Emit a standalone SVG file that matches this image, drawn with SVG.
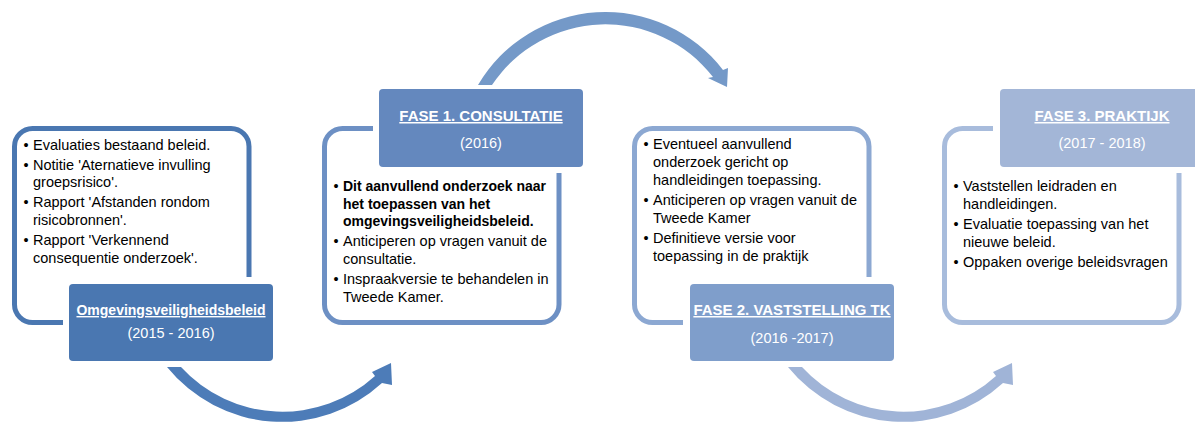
<svg xmlns="http://www.w3.org/2000/svg" width="1195" height="427" viewBox="0 0 1195 427">
<style>
.body{font-family:"Liberation Sans",Arial,sans-serif;font-size:14.5px;fill:#000}
.b{font-weight:bold;font-size:14px}
.title{font-family:"Liberation Sans",Arial,sans-serif;font-weight:bold;font-size:15px;fill:#fff;text-anchor:middle;text-decoration:underline}
.year{font-family:"Liberation Sans",Arial,sans-serif;font-size:14.5px;fill:#fff;text-anchor:middle}
.outline{fill:none;stroke-width:5}
</style>
<rect width="1195" height="427" fill="#fff"/>
<g id="connectors">
  <path id="arrow1" fill="#4d7cb8" d="M167,367 A148,148 0 0 0 382,383 L392,385 L391,363 L372,372 L375,376 A137.5,137.5 0 0 1 181,367 Z"/>
  <path id="arrow2" fill="#7499c8" d="M478,85 A148,148 0 0 1 723,70 L728,68 L727,87 L708,78 L713,77 A136.3,136.3 0 0 0 492,85 Z"/>
  <path id="arrow3" fill="#a0b4d7" transform="translate(621,0)" d="M167,367 A148,148 0 0 0 382,383 L392,385 L391,363 L372,372 L375,376 A137.5,137.5 0 0 1 181,367 Z"/>
</g>
<g id="node1">
  <path class="outline" stroke="#4a77b1" d="M63,322.5 H32.5 A18,18 0 0 1 14.5,304.5 V146.5 A18,18 0 0 1 32.5,128.5 H231 A18,18 0 0 1 249,146.5 V277"/>
  <text class="body"><tspan x="23.5" y="149.5">•</tspan><tspan x="33" y="149.5">Evaluaties bestaand beleid.</tspan>
    <tspan x="23.5" y="169.5">•</tspan><tspan x="33" y="169.5">Notitie 'Aternatieve invulling</tspan>
    <tspan x="33" y="187">groepsrisico'.</tspan>
    <tspan x="23.5" y="207">•</tspan><tspan x="33" y="207">Rapport 'Afstanden rondom</tspan>
    <tspan x="33" y="225">risicobronnen'.</tspan>
    <tspan x="23.5" y="245">•</tspan><tspan x="33" y="245">Rapport 'Verkennend</tspan>
    <tspan x="33" y="262.5">consequentie onderzoek'.</tspan></text>
  <rect x="69" y="284" width="204" height="77" rx="4" fill="#4a77b1"/>
  <text class="title" x="171" y="315" style="font-size:14px">Omgevingsveiligheidsbeleid</text>
  <text class="year" x="171" y="338">(2015 - 2016)</text>
</g>
<g id="node2">
  <path class="outline" stroke="#6d90c4" d="M373,128.5 H342.5 A18,18 0 0 0 324.5,146.5 V304.5 A18,18 0 0 0 342.5,322.5 H541 A18,18 0 0 0 559,304.5 V173"/>
  <rect x="379" y="89" width="204" height="78" rx="4" fill="#6488be"/>
  <text class="title" x="481" y="121">FASE 1. CONSULTATIE</text>
  <text class="year" x="481" y="148">(2016)</text>
  <text class="body"><tspan x="333.5" y="191">•</tspan><tspan x="343" y="191" class="b">Dit aanvullend onderzoek naar</tspan>
    <tspan x="343" y="209" class="b">het toepassen van het</tspan>
    <tspan x="343" y="226" class="b">omgevingsveiligheidsbeleid.</tspan>
    <tspan x="333.5" y="246">•</tspan><tspan x="343" y="246">Anticiperen op vragen vanuit de</tspan>
    <tspan x="343" y="264">consultatie.</tspan>
    <tspan x="333.5" y="284">•</tspan><tspan x="343" y="284">Inspraakversie te behandelen in</tspan>
    <tspan x="343" y="302">Tweede Kamer.</tspan></text>
</g>
<g id="node3">
  <path class="outline" stroke="#8ca8d2" d="M683,322.5 H652.5 A18,18 0 0 1 634.5,304.5 V146.5 A18,18 0 0 1 652.5,128.5 H851 A18,18 0 0 1 869,146.5 V277"/>
  <text class="body"><tspan x="643.5" y="149">•</tspan><tspan x="653" y="149">Eventueel aanvullend</tspan>
    <tspan x="653" y="167">onderzoek gericht op</tspan>
    <tspan x="653" y="185">handleidingen toepassing.</tspan>
    <tspan x="643.5" y="205">•</tspan><tspan x="653" y="205">Anticiperen op vragen vanuit de</tspan>
    <tspan x="653" y="223">Tweede Kamer</tspan>
    <tspan x="643.5" y="243">•</tspan><tspan x="653" y="243">Definitieve versie voor</tspan>
    <tspan x="653" y="261">toepassing in de praktijk</tspan></text>
  <rect x="690" y="284" width="204" height="77" rx="4" fill="#7f9ecb"/>
  <text class="title" x="792" y="315">FASE 2. VASTSTELLING TK</text>
  <text class="year" x="792" y="342.5">(2016 -2017)</text>
</g>
<g id="node4">
  <path class="outline" stroke="#a8bcdc" d="M993,128.5 H962.5 A18,18 0 0 0 944.5,146.5 V304.5 A18,18 0 0 0 962.5,322.5 H1161 A18,18 0 0 0 1179,304.5 V173"/>
  <rect x="1000" y="89" width="204" height="78" rx="4" fill="#a3b6d7"/>
  <text class="title" x="1102" y="121">FASE 3. PRAKTIJK</text>
  <text class="year" x="1102" y="148">(2017 - 2018)</text>
  <text class="body"><tspan x="953.5" y="191">•</tspan><tspan x="963" y="191">Vaststellen leidraden en</tspan>
    <tspan x="963" y="209">handleidingen.</tspan>
    <tspan x="953.5" y="229">•</tspan><tspan x="963" y="229">Evaluatie toepassing van het</tspan>
    <tspan x="963" y="247">nieuwe beleid.</tspan>
    <tspan x="953.5" y="267">•</tspan><tspan x="963" y="267">Oppaken overige beleidsvragen</tspan></text>
</g>
</svg>
